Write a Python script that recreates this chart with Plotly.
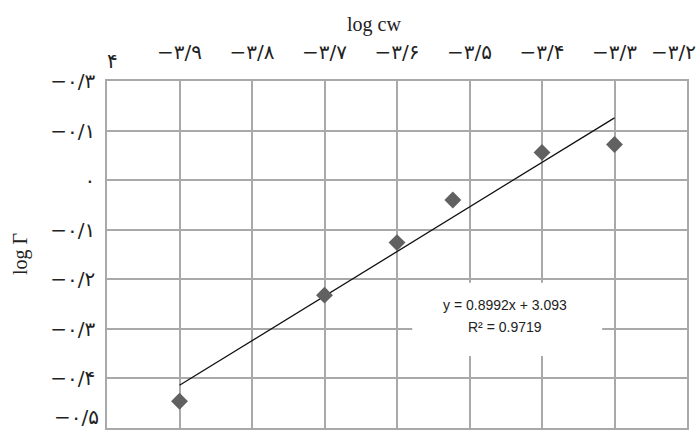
import plotly.graph_objects as go

# Measured points (log cw, log Γ)
log_cw = [-3.9, -3.7, -3.6, -3.523, -3.4, -3.3]
log_gamma = [-0.446, -0.232, -0.126, -0.040, 0.056, 0.072]

# Linear fit reported on the chart
slope = 0.8992
intercept = 3.093
r_squared = 0.9719
fit_x = [-3.9, -3.3]
fit_y = [slope * v + intercept for v in fit_x]

# Tick positions and Persian-digit labels
x_ticks = [-3.9, -3.8, -3.7, -3.6, -3.5, -3.4, -3.3, -3.2]
x_labels = ["−۳/۹", "−۳/۸", "−۳/۷", "−۳/۶", "−۳/۵", "−۳/۴", "−۳/۳", "−۳/۲"]
y_ticks = [0.2, 0.1, 0.0, -0.1, -0.2, -0.3, -0.4, -0.5]
y_labels = ["−۰/۳", "−۰/۱", "۰", "−۰/۱", "−۰/۲", "−۰/۳", "−۰/۴", "−۰/۵"]

grid = "#a9a9a9"
digit_font = dict(family="DejaVu Sans", size=20, color="#222")

fig = go.Figure()

fig.add_trace(go.Scatter(
    x=fit_x, y=fit_y, mode="lines",
    line=dict(color="#111", width=1.3), showlegend=False, hoverinfo="skip"))

fig.add_trace(go.Scatter(
    x=log_cw, y=log_gamma, mode="markers",
    marker=dict(symbol="diamond", size=13, color="#616161"),
    showlegend=False))

# White label box holding the fit equation (covers the grid beneath it)
fig.add_shape(type="rect", xref="x", yref="y",
              x0=-3.579, x1=-3.317, y0=-0.355, y1=-0.207,
              fillcolor="white", line=dict(width=0), layer="between")

eq_font = dict(family="Liberation Sans", size=14, color="#222")
fig.add_annotation(xref="x", yref="y", x=-3.451, y=-0.251,
                   text=f"y = {slope}x + {intercept}", showarrow=False, font=eq_font)
fig.add_annotation(xref="x", yref="y", x=-3.451, y=-0.297,
                   text=f"R² = {r_squared}", showarrow=False, font=eq_font)

# Axis titles
fig.add_annotation(xref="paper", yref="paper", x=0.46, y=1.0, yshift=70,
                   text="log cw", showarrow=False,
                   font=dict(family="Liberation Serif", size=20, color="#222"))
fig.add_annotation(xref="paper", yref="paper", x=0, xshift=-100, y=0.50,
                   text="log Γ", textangle=-90, showarrow=False,
                   font=dict(family="Liberation Serif", size=20, color="#222"))
fig.add_annotation(xref="x", yref="y", x=-4.0, y=0.2, xshift=5, yshift=20,
                   text="۴", showarrow=False, font=digit_font)

# Edge labels placed by hand so they stay on the page
fig.add_annotation(xref="paper", yref="paper", x=1.0, xshift=11, xanchor="right",
                   y=1.0, yshift=29, yanchor="middle",
                   text=x_labels[-1], showarrow=False, font=digit_font)
fig.add_annotation(xref="paper", yref="y", x=0, xshift=-6, xanchor="right",
                   y=y_ticks[-1], yshift=11, yanchor="middle",
                   text=y_labels[-1], showarrow=False, font=digit_font)

fig.update_xaxes(
    range=[-4.0, -3.2], side="top",
    tickvals=x_ticks[:-1], ticktext=x_labels[:-1], tickfont=digit_font,
    ticks="", ticklabelstandoff=12,
    showgrid=True, gridcolor=grid, gridwidth=1.5,
    showline=True, linecolor=grid, linewidth=1.5, mirror=True,
    zeroline=False, fixedrange=True)

fig.update_yaxes(
    range=[-0.5, 0.2],
    tickvals=y_ticks[:-1], ticktext=y_labels[:-1], tickfont=digit_font,
    ticks="", ticklabelstandoff=6,
    showgrid=True, gridcolor=grid, gridwidth=1.5,
    showline=True, linecolor=grid, linewidth=1.5, mirror=True,
    zeroline=False, fixedrange=True)

fig.update_layout(
    width=698, height=430,
    margin=dict(l=107, r=11, t=81, b=0),
    paper_bgcolor="white", plot_bgcolor="white")

fig.write_html("out.html")
